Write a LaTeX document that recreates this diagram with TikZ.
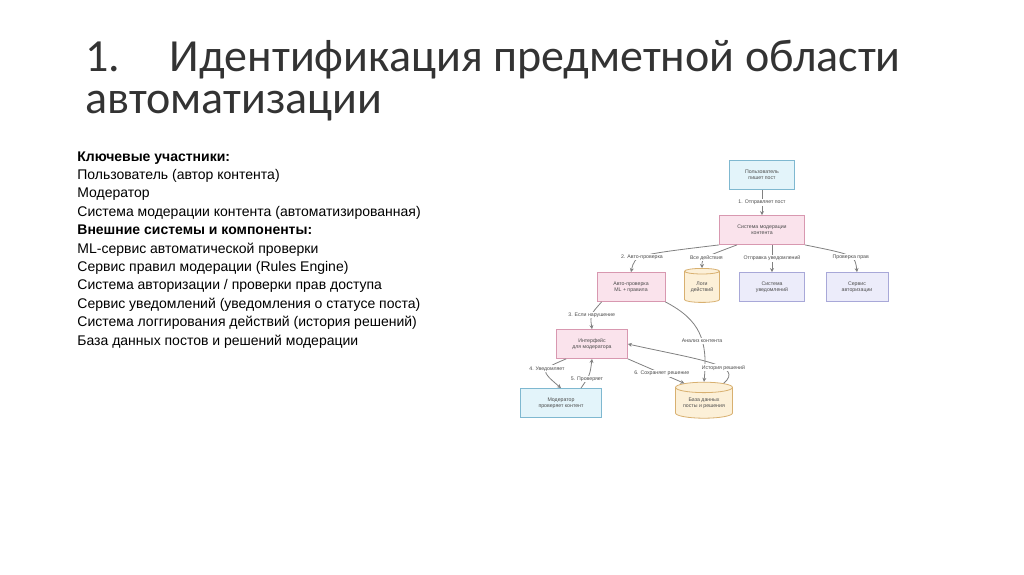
\documentclass[tikz,border=0pt]{standalone}
\usepackage{fontspec}
\setmainfont{Carlito}
\newfontfamily\lsans{Liberation Sans}
\usetikzlibrary{shapes.geometric,arrows.meta}
\definecolor{bcy}{HTML}{7FB8D0}\definecolor{fcy}{HTML}{E3F4FA}
\definecolor{bmg}{HTML}{D898B0}\definecolor{fmg}{HTML}{FAE3EC}
\definecolor{bbl}{HTML}{A8A8D8}\definecolor{fbl}{HTML}{ECECFA}
\definecolor{bor}{HTML}{D8B070}\definecolor{for}{HTML}{FCF0D8}
\begin{document}
\begin{tikzpicture}[x=0.5pt,y=-0.5pt,
  box/.style 2 args={draw=#1,fill=#2,minimum height=14.5pt,inner sep=0pt,font=\lsans\fontsize{2.6}{3.2}\selectfont,align=center,text=black!70,line width=0.4pt},
  db/.style={cylinder,shape border rotate=90,aspect=0.25,draw=bor,fill=for,inner sep=0pt,font=\lsans\fontsize{2.6}{3.2}\selectfont,align=center,text=black!70,line width=0.4pt},
  conn/.style={draw=gray,line width=0.4pt,-{Stealth[length=2pt,width=2pt]}},
  lab/.style={fill=white,inner sep=0.5pt,font=\lsans\fontsize{2.6}{3.2}\selectfont,text=black!70}]
\useasboundingbox (0,0) rectangle (1024,574);
\node[anchor=west,font=\fontsize{23}{28}\selectfont,text=black!80] (t1) at (78,60) {1.\hspace{25pt}Идентификация предметной области};
\node[anchor=west,font=\fontsize{23}{28}\selectfont,text=black!80] (t2) at (78,106) {автоматизации};
\node[anchor=north west,align=left,inner sep=0pt,font=\lsans\fontsize{7}{9.2}\selectfont] (txt) at (77,151) {\textbf{Ключевые участники:}\\
Пользователь (автор контента)\\
Модератор\\
Система модерации контента (автоматизированная)\\
\textbf{Внешние системы и компоненты:}\\
ML-сервис автоматической проверки\\
Сервис правил модерации (Rules Engine)\\
Система авторизации / проверки прав доступа\\
Сервис уведомлений (уведомления о статусе поста)\\
Система логгирования действий (история решений)\\
База данных постов и решений модерации};
\node[box={bcy}{fcy},minimum width=32.5pt] (user) at (762,175) {Пользователь\\пишет пост};
\node[box={bmg}{fmg},minimum width=42.5pt] (sys) at (762,230) {Система модерации\\контента};
\node[box={bmg}{fmg},minimum width=34pt] (auto) at (631,287) {Авто-проверка\\ML + правила};
\node[db,minimum width=17.5pt,minimum height=17pt] (logs) at (702,287) {Логи\\действий};
\node[box={bbl}{fbl},minimum width=32.5pt] (notif) at (772,287) {Система\\уведомлений};
\node[box={bbl}{fbl},minimum width=31pt] (auth) at (857,287) {Сервис\\авторизации};
\node[box={bmg}{fmg},minimum width=35.5pt] (ui) at (592,344) {Интерфейс\\для модератора};
\node[box={bcy}{fcy},minimum width=40.5pt] (mod) at (561,403) {Модератор\\проверяет контент};
\node[db,minimum width=28.5pt,minimum height=18pt] (base) at (704,403) {База данных\\посты и решения};
\draw[conn] (user) -- node[lab]{1. Отправляет пост} (sys);
\draw[conn] (sys.south west) .. controls (635,255) .. node[lab,pos=0.55]{2. Авто-проверка} (auto.north);
\draw[conn] (sys.south) ++(-25,0) .. controls (702,258) .. node[lab,pos=0.5]{Все действия} (logs.north);
\draw[conn] (sys.south) ++(10,0) -- node[lab]{Отправка уведомлений} (notif.north);
\draw[conn] (sys.south east) .. controls (855,255) .. node[lab,pos=0.55]{Проверка прав} (auth.north);
\draw[conn] (auto.south west) ++(5,0) .. controls (590,315) .. node[lab]{3. Если нарушение} (ui.north);
\draw[conn] (auto.south east) .. controls (700,320) and (708,340) .. node[lab,pos=0.6]{Анализ контента} (base.north);
\draw[conn] (ui.south west) ++(10,0) .. controls (540,370) .. node[lab,pos=0.4]{4. Уведомляет} (mod.north);
\draw[conn] (mod.north) ++(20,0) .. controls (590,375) .. node[lab,pos=0.3]{5. Проверяет} (ui.south);
\draw[conn] (ui.south east) -- node[lab,pos=0.6]{6. Сохраняет решение} (base.north west);
\draw[conn] (base.north east) .. controls (745,365) and (700,360) .. node[lab,pos=0.35]{История решений} (ui.east);
\end{tikzpicture}
\end{document}
